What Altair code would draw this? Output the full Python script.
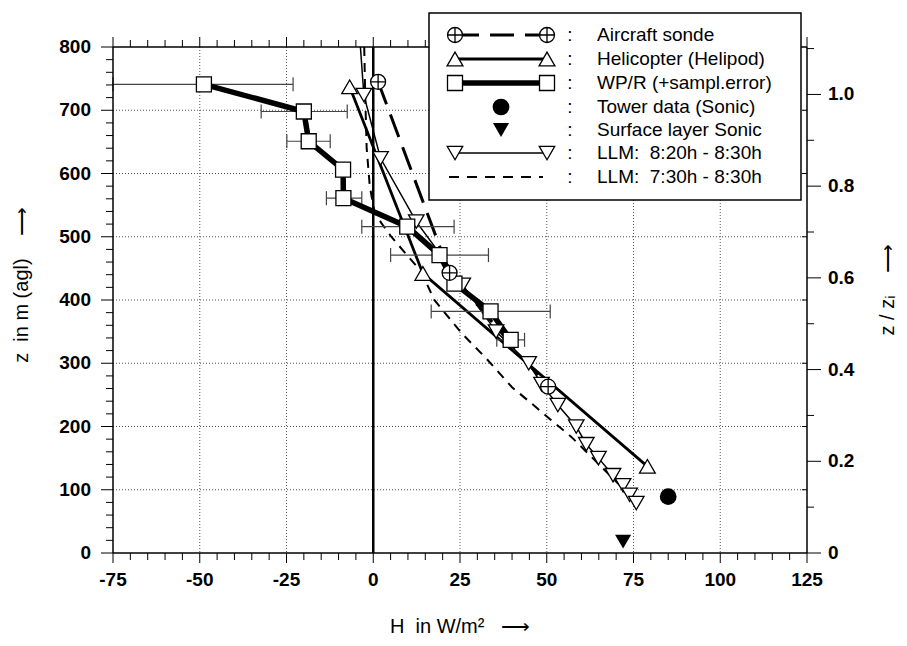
import altair as alt
import pandas as pd

# ---------------- data ----------------
air_H = [1.4, 22.0, 50.4]
air_z = [745, 443, 263]

heli_H = [-6.8, 14.3, 79.0]
heli_z = [737, 442, 137]

wpr_H = [-48.8, -20.0, -18.6, -8.7, -8.6, 9.8, 19.1, 23.4, 33.8, 39.6]
wpr_z = [741, 698, 651, 606, 561, 516, 471, 426, 382, 337]

err_z = [741, 698, 651, 561, 516, 471, 382, 337]
err_lo = [-75.0, -32.3, -24.9, -13.5, -3.3, 5.0, 16.7, 35.6]
err_hi = [-23.1, -7.5, -12.4, -3.3, 23.3, 33.2, 51.0, 43.6]

tower_H = [85.0]
tower_z = [89]

surf_H = [72.0]
surf_z = [18]

llm_H = [-3.7, -2.7, 2.1, 12.4, 25.8, 35.4, 44.8, 48.5, 53.2, 58.5, 61.4, 64.9, 69.1, 72.0, 73.9, 75.8]
llm_z = [800, 724, 624, 524, 424, 350, 300, 267, 234, 200, 172, 150, 123, 107, 92, 79]

llm2_H = [-2.6, -2.3, -1.9, -1.0, 0.3, 2.3, 5.2, 13.8, 17.6, 25.4, 32.5, 40.0, 45.5, 51.3, 57.0, 63.8, 69.6, 76.3]
llm2_z = [800, 720, 640, 580, 540, 522, 500, 445, 400, 348, 308, 262, 237, 210, 184, 147, 115, 79]

zi = 725.0  # boundary layer height used for the right axis (z / z_i)

x_major = [-75, -50, -25, 0, 25, 50, 75, 100, 125]
x_labels = ["-75", "-50", "-25", "0", "25", "50", "75", "100", "125"]
x_minor = [v for v in range(-75, 126, 5) if v % 25 != 0]
z_major = [0, 100, 200, 300, 400, 500, 600, 700, 800]
z_labels = ["0", "100", "200", "300", "400", "500", "600", "700", "800"]
z_minor = [v for v in range(0, 801, 20) if v % 100 != 0]
r_major = [0, 0.2, 0.4, 0.6, 0.8, 1.0]
r_labels = ["0", "0.2", "0.4", "0.6", "0.8", "1.0"]
r_minor = [0.1, 0.3, 0.5, 0.7, 0.9, 1.1]

NB = "\u00a0"
legend_labels = ["Aircraft sonde", "Helicopter (Helipod)", "WP/R (+sampl.error)",
                 "Tower data (Sonic)", "Surface layer Sonic",
                 "LLM:" + NB + NB + "8:20h - 8:30h", "LLM:" + NB + NB + "7:30h - 8:30h"]
x_title = "H" + NB + NB + "in W/m²" + NB + NB + NB + "⟶"
y_title = "z" + NB + NB + "in m (agl)" + NB + NB + NB + NB + "⟶"
r_title = "z / zᵢ" + NB + NB + NB + NB + "⟶"

# ---------------- layout ----------------
W, H = 694, 506
FONT = "Liberation Sans"
xs = alt.Scale(domain=[-75, 125], nice=False, zero=False)
ys = alt.Scale(domain=[0, 800], nice=False, zero=False)


def df(h, z):
    return pd.DataFrame({"H": h, "z": z, "i": list(range(len(h)))})


def xq(field="H"):
    return alt.X(f"{field}:Q", scale=xs, axis=None)


def yq(field="z"):
    return alt.Y(f"{field}:Q", scale=ys, axis=None)


one = pd.DataFrame({"a": [0]})
tk = dict(color="black", strokeWidth=1)
grid = dict(color="#555", strokeWidth=1, strokeDash=[1, 2])

# grid lines
xg = alt.Chart(pd.DataFrame({"H": x_major[1:-1]})).mark_rule(**grid).encode(x=xq())
yg = alt.Chart(pd.DataFrame({"z": z_major[1:-1]})).mark_rule(**grid).encode(y=yq())

zero = pd.DataFrame({"H": [0.0, 0.0], "z": [0, 800], "i": [0, 1]})
zero_line = alt.Chart(zero).mark_line(color="black", strokeWidth=2.5).encode(
    x=xq(), y=yq(), order="i:Q")

llm2_line = alt.Chart(df(llm2_H, llm2_z)).mark_line(
    color="black", strokeWidth=2, strokeDash=[9, 7]).encode(x=xq(), y=yq(), order="i:Q")
air_line = alt.Chart(df(air_H, air_z)).mark_line(
    color="black", strokeWidth=3, strokeDash=[24, 11]).encode(x=xq(), y=yq(), order="i:Q")
heli_line = alt.Chart(df(heli_H, heli_z)).mark_line(
    color="black", strokeWidth=2.8).encode(x=xq(), y=yq(), order="i:Q")
llm_line = alt.Chart(df(llm_H, llm_z)).mark_line(
    color="black", strokeWidth=1.5).encode(x=xq(), y=yq(), order="i:Q")
wpr_line = alt.Chart(df(wpr_H, wpr_z)).mark_line(
    color="black", strokeWidth=5.5).encode(x=xq(), y=yq(), order="i:Q")

err = pd.DataFrame({"z": err_z, "lo": err_lo, "hi": err_hi})
err_bar = alt.Chart(err).mark_rule(color="#444", strokeWidth=1.2).encode(
    x=xq("lo"), x2="hi:Q", y=yq())
err_cap_lo = alt.Chart(err).mark_rule(color="#444", strokeWidth=1.2, yOffset=-7, y2Offset=7).encode(
    x=xq("lo"), y=yq(), y2="z:Q")
err_cap_hi = alt.Chart(err).mark_rule(color="#444", strokeWidth=1.2, yOffset=-7, y2Offset=7).encode(
    x=xq("hi"), y=yq(), y2="z:Q")

CROSS_CIRCLE = "M-1,0A1,1,0,1,1,1,0A1,1,0,1,1,-1,0ZM-1,0L1,0M0,-1L0,1"


def hollow(data, shape, size):
    return alt.Chart(data).mark_point(shape=shape, size=size, filled=True, fill="white",
                                      stroke="black", strokeWidth=1.3, opacity=1).encode(x=xq(), y=yq())


m_llm = hollow(df(llm_H[1:], llm_z[1:]), "triangle-down", 240)
m_heli = hollow(df(heli_H, heli_z), "triangle-up", 250)
m_wpr = hollow(df(wpr_H, wpr_z), "square", 225)
m_air = hollow(df(air_H, air_z), CROSS_CIRCLE, 225)
m_tower = alt.Chart(df(tower_H, tower_z)).mark_point(shape="circle", size=280, filled=True,
                                                      color="black", opacity=1).encode(x=xq(), y=yq())
m_surf = alt.Chart(df(surf_H, surf_z)).mark_point(shape="triangle-down", size=260, filled=True,
                                                   color="black", opacity=1).encode(x=xq(), y=yq())

# axes drawn through the scales
xmaj = pd.DataFrame({"H": x_major, "lab": x_labels})
xmin = pd.DataFrame({"H": x_minor})
zmaj = pd.DataFrame({"z": z_major, "lab": z_labels})
zmin = pd.DataFrame({"z": z_minor})
rmaj = pd.DataFrame({"z": [r * zi for r in r_major], "lab": r_labels})
rmin = pd.DataFrame({"z": [r * zi for r in r_minor]})

frame = [
    alt.Chart(one).mark_rule(color="black", strokeWidth=1.5).encode(
        x=alt.value(0), y=alt.value(0), y2=alt.value(H)),
    alt.Chart(one).mark_rule(color="black", strokeWidth=1.5).encode(
        x=alt.value(W), y=alt.value(0), y2=alt.value(H)),
    alt.Chart(one).mark_rule(color="black", strokeWidth=1.5).encode(
        y=alt.value(0), x=alt.value(0), x2=alt.value(W)),
    alt.Chart(one).mark_rule(color="black", strokeWidth=1.5).encode(
        y=alt.value(H), x=alt.value(0), x2=alt.value(W)),
]
ticks = [
    alt.Chart(xmaj).mark_rule(**tk).encode(x=xq(), y=alt.value(H), y2=alt.value(H + 10)),
    alt.Chart(xmin).mark_rule(**tk).encode(x=xq(), y=alt.value(H), y2=alt.value(H + 7)),
    alt.Chart(xmaj).mark_rule(**tk).encode(x=xq(), y=alt.value(0), y2=alt.value(-10)),
    alt.Chart(xmin).mark_rule(**tk).encode(x=xq(), y=alt.value(0), y2=alt.value(-7)),
    alt.Chart(zmaj).mark_rule(**tk).encode(y=yq(), x=alt.value(0), x2=alt.value(-12)),
    alt.Chart(zmin).mark_rule(**tk).encode(y=yq(), x=alt.value(0), x2=alt.value(-7)),
    alt.Chart(zmaj.iloc[1:-1]).mark_rule(**tk).encode(y=yq(), x=alt.value(W), x2=alt.value(W - 5)),
    alt.Chart(rmaj).mark_rule(**tk).encode(y=yq(), x=alt.value(W), x2=alt.value(W + 14)),
    alt.Chart(rmin).mark_rule(**tk).encode(y=yq(), x=alt.value(W), x2=alt.value(W + 7)),
]
lab_style = dict(font=FONT, fontSize=19, fontWeight="bold", color="black")
labels = [
    alt.Chart(xmaj).mark_text(align="center", baseline="top", **lab_style).encode(
        x=xq(), y=alt.value(H + 18), text="lab:N"),
    alt.Chart(zmaj).mark_text(align="right", baseline="middle", **lab_style).encode(
        y=yq(), x=alt.value(-22), text="lab:N"),
    alt.Chart(rmaj).mark_text(align="left", baseline="middle", **lab_style).encode(
        y=yq(), x=alt.value(W + 21), text="lab:N"),
]
tstyle = dict(font=FONT, fontSize=20, color="black", align="center")
titles = [
    alt.Chart(one).mark_text(text=x_title, baseline="alphabetic", **tstyle).encode(
        x=alt.value(347), y=alt.value(H + 80)),
    alt.Chart(one).mark_text(text=y_title, angle=270, baseline="middle", **tstyle).encode(
        x=alt.value(-91), y=alt.value(238)),
    alt.Chart(one).mark_text(text=r_title, angle=270, baseline="alphabetic", **tstyle).encode(
        x=alt.value(W + 87), y=alt.value(243)),
]

# legend (boxed key)
LX0, LX1, LY0, LY1 = 316, 688, -34, 153
rows = [-12, 12, 36, 60, 83, 106, 130]
SX1, SX2, SXM = 342, 434, 388
legend = [alt.Chart(one).mark_rect(fill="white", stroke="black", strokeWidth=1.5).encode(
    x=alt.value(LX0), x2=alt.value(LX1), y=alt.value(LY0), y2=alt.value(LY1))]


def lg_line(y, **kw):
    return alt.Chart(one).mark_rule(color="black", **kw).encode(
        x=alt.value(SX1), x2=alt.value(SX2), y=alt.value(y))


def lg_sym(x, y, shape, size, hollow_=True):
    if hollow_:
        m = alt.Chart(one).mark_point(shape=shape, size=size, filled=True, fill="white",
                                      stroke="black", strokeWidth=1.3, opacity=1)
    else:
        m = alt.Chart(one).mark_point(shape=shape, size=size, filled=True, color="black", opacity=1)
    return m.encode(x=alt.value(x), y=alt.value(y))


legend += [lg_line(rows[0], strokeWidth=3, strokeDash=[24, 11]),
           lg_sym(SX1, rows[0], CROSS_CIRCLE, 225), lg_sym(SX2, rows[0], CROSS_CIRCLE, 225),
           lg_line(rows[1], strokeWidth=2.8),
           lg_sym(SX1, rows[1], "triangle-up", 250), lg_sym(SX2, rows[1], "triangle-up", 250),
           lg_line(rows[2], strokeWidth=5.5),
           lg_sym(SX1, rows[2], "square", 225), lg_sym(SX2, rows[2], "square", 225),
           lg_sym(SXM, rows[3], "circle", 280, False),
           lg_sym(SXM, rows[4], "triangle-down", 260, False),
           lg_line(rows[5], strokeWidth=1.5),
           lg_sym(SX1, rows[5], "triangle-down", 240), lg_sym(SX2, rows[5], "triangle-down", 240),
           alt.Chart(one).mark_rule(color="black", strokeWidth=2, strokeDash=[10, 8]).encode(
               x=alt.value(SX1 - 6), x2=alt.value(SX2 - 4), y=alt.value(rows[6]))]
for r, lab in zip(rows, legend_labels):
    legend.append(alt.Chart(one).mark_text(align="left", baseline="middle", font=FONT, fontSize=19,
                                           color="black", text=lab).encode(x=alt.value(484), y=alt.value(r)))
    legend.append(alt.Chart(one).mark_text(align="center", baseline="middle", font=FONT, fontSize=19,
                                           color="black", text=":").encode(x=alt.value(457), y=alt.value(r)))

chart = alt.layer(
    xg, yg, zero_line, llm2_line, air_line, heli_line, llm_line,
    err_bar, err_cap_lo, err_cap_hi, wpr_line,
    m_llm, m_heli, m_wpr, m_air, m_tower, m_surf,
    *frame, *ticks, *labels, *titles, *legend
).properties(
    width=W, height=H,
    padding={"left": 105, "top": 39, "right": 92, "bottom": 85},
    autosize=alt.AutoSizeParams(type="none"),
    background="white",
).configure_view(stroke=None)

chart.save("out.html", embed_options={"renderer": "svg", "actions": False})
